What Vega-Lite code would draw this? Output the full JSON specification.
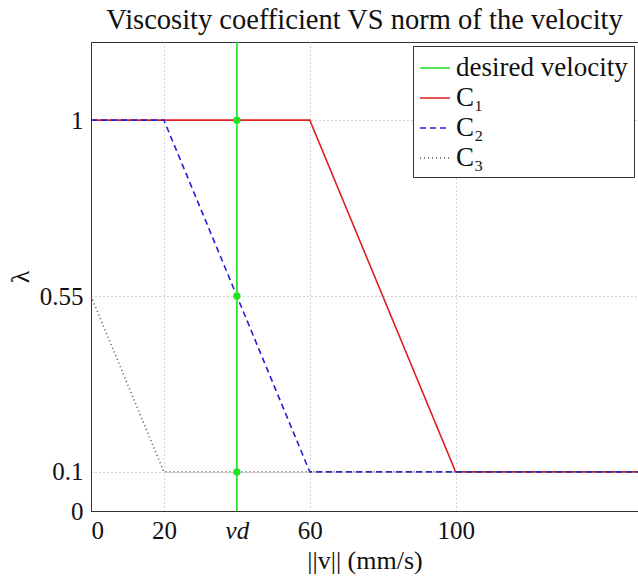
{
  "$schema": "https://vega.github.io/schema/vega-lite/v6.json",
  "autosize": {"type": "none"},
  "padding": {"left": 91, "top": 42, "right": 0, "bottom": 65},
  "width": 547,
  "height": 469,
  "background": "white",
  "title": {
    "text": "Viscosity coefficient VS norm of the velocity",
    "font": "Liberation Serif",
    "fontSize": 28.5,
    "fontWeight": "normal",
    "color": "#111",
    "offset": 8,
    "anchor": "middle"
  },
  "config": {
    "view": {"stroke": "#333", "strokeWidth": 1},
    "axis": {
      "labelFont": "Liberation Serif",
      "labelFontSize": 25,
      "labelColor": "#111",
      "titleFont": "Liberation Serif",
      "titleFontSize": 26,
      "titleFontWeight": "normal",
      "titleColor": "#111",
      "domainColor": "#333",
      "grid": true,
      "gridDash": [1, 3],
      "gridColor": "#aaa",
      "gridWidth": 1,
      "ticks": false
    }
  },
  "datasets": {
    "lines": [
      {"series": "desired velocity", "v": 40, "lambda": 0},
      {"series": "desired velocity", "v": 40, "lambda": 1.2},
      {"series": "C₁", "v": 0, "lambda": 1},
      {"series": "C₁", "v": 60, "lambda": 1},
      {"series": "C₁", "v": 100, "lambda": 0.1},
      {"series": "C₁", "v": 150, "lambda": 0.1},
      {"series": "C₂", "v": 0, "lambda": 1},
      {"series": "C₂", "v": 20, "lambda": 1},
      {"series": "C₂", "v": 60, "lambda": 0.1},
      {"series": "C₂", "v": 150, "lambda": 0.1},
      {"series": "C₃", "v": 0, "lambda": 0.55},
      {"series": "C₃", "v": 20, "lambda": 0.1},
      {"series": "C₃", "v": 150, "lambda": 0.1}
    ],
    "pts": [
      {"v": 40, "lambda": 1},
      {"v": 40, "lambda": 0.55},
      {"v": 40, "lambda": 0.1}
    ]
  },
  "layer": [
    {
      "data": {"name": "lines"},
      "mark": {"type": "line", "strokeWidth": 1.6, "clip": true},
      "encoding": {
        "x": {
          "field": "v", "type": "quantitative",
          "scale": {"domain": [0, 150], "nice": false, "zero": false},
          "axis": {
            "title": "||v|| (mm/s)",
            "values": [0, 20, 40, 60, 100],
            "format": "d",
            "labelExpr": "datum.value == 40 ? 'vd' : datum.label",
            "labelFontStyle": {"condition": {"test": "datum.value == 40", "value": "italic"}, "value": "normal"},
            "labelFlush": true,
            "labelPadding": 7,
            "titlePadding": 4
          }
        },
        "y": {
          "field": "lambda", "type": "quantitative",
          "scale": {"domain": [0, 1.2], "nice": false},
          "axis": {
            "title": "λ",
            "values": [0, 0.1, 0.55, 1],
            "format": "~g",
            "labelFlush": false,
            "labelPadding": 8,
            "titlePadding": 6
          }
        },
        "color": {
          "field": "series", "type": "nominal",
          "scale": {"domain": ["desired velocity", "C₁", "C₂", "C₃"], "range": ["#22e022", "#e02020", "#2020d8", "#555555"]},
          "legend": {
            "title": null,
            "orient": "top-right",
            "offset": 4,
            "fillColor": "white",
            "strokeColor": "#333",
            "padding": 6,
            "labelFont": "Liberation Serif",
            "labelFontSize": 27,
            "labelLimit": 400,
            "labelColor": "#111",
            "symbolType": "stroke",
            "symbolSize": 900,
            "symbolStrokeWidth": 1.6,
            "rowPadding": 1,
            "labelOffset": 5
          }
        },
        "strokeDash": {
          "field": "series", "type": "nominal",
          "scale": {"domain": ["desired velocity", "C₁", "C₂", "C₃"], "range": [[1, 0], [1, 0], [6, 4], [1, 3]]},
          "legend": null
        },
        "order": {"field": "v", "type": "quantitative"}
      }
    },
    {
      "data": {"name": "pts"},
      "mark": {"type": "point", "filled": true, "size": 55, "color": "#22e022", "opacity": 1},
      "encoding": {
        "x": {"field": "v", "type": "quantitative"},
        "y": {"field": "lambda", "type": "quantitative"}
      }
    }
  ]
}
